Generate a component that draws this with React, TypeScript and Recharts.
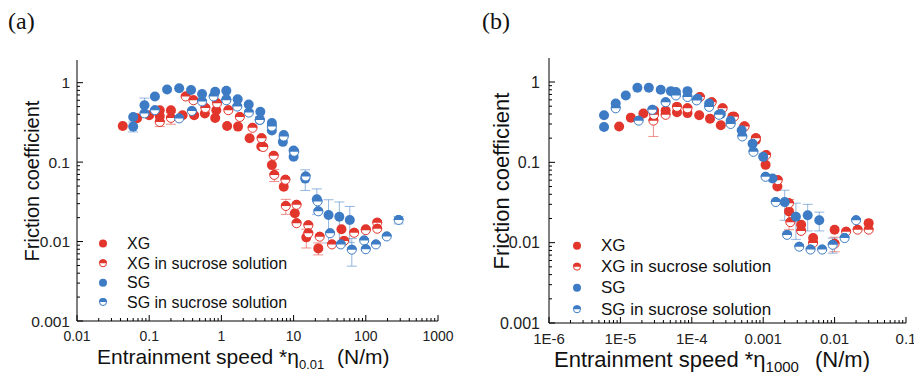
import { ScatterChart, Scatter, XAxis, YAxis, ErrorBar } from 'recharts'

type Pt = [number, number, number?]
type Row = { x: number; y: number; e?: number }

const RED = '#e2352c'
const BLUE = '#3d7cc5'
const SANS = '"Liberation Sans", Arial, sans-serif'

const seriesNames = ['XG', 'XG in sucrose solution', 'SG', 'SG in sucrose solution']

// panel (a): entrainment speed * eta_0.01
const xgA: Pt[] = [
  [0.043, 0.285], [0.068, 0.356], [0.1, 0.39], [0.14, 0.45], [0.14, 0.38], [0.2, 0.45], [0.29, 0.39],
  [0.42, 0.39], [0.59, 0.41], [0.82, 0.36], [0.85, 0.45], [1.2, 0.285], [1.7, 0.28], [2.46, 0.2],
  [3.57, 0.157], [5.0, 0.092], [7.3, 0.049], [10.4, 0.0227], [15, 0.0113, 0.003], [22, 0.0082, 0.0014],
  [46, 0.0143], [100, 0.0143],
]
const xgSucA: Pt[] = [
  [0.14, 0.32, 0.04], [0.2, 0.36, 0.06], [0.32, 0.67], [0.41, 0.6], [0.6, 0.48], [0.87, 0.55],
  [1.25, 0.45], [1.8, 0.37], [2.7, 0.27], [3.6, 0.2], [3.8, 0.155], [5.3, 0.12], [5.4, 0.069, 0.012],
  [7.7, 0.06], [7.8, 0.028, 0.006], [11, 0.029], [11, 0.017], [16, 0.016], [16, 0.0127], [23, 0.0115],
  [34, 0.0092], [50, 0.0102], [69, 0.0129], [100, 0.0139], [144, 0.0173], [144, 0.0145],
]
const sgA: Pt[] = [
  [0.06, 0.37], [0.06, 0.28, 0.04], [0.086, 0.52, 0.12], [0.12, 0.67], [0.177, 0.82], [0.26, 0.85],
  [0.38, 0.81], [0.54, 0.72], [0.82, 0.77], [1.17, 0.79], [1.17, 0.62], [1.68, 0.62], [2.39, 0.53],
  [3.46, 0.43], [3.4, 0.34], [5.0, 0.31], [5.0, 0.25], [7.3, 0.22], [7.1, 0.18], [10, 0.14], [10, 0.117],
  [14.5, 0.062, 0.018], [21, 0.034, 0.012], [30.5, 0.0216, 0.012], [43, 0.0205, 0.011], [60, 0.0187, 0.009],
]
const sgSucA: Pt[] = [
  [0.086, 0.41], [0.12, 0.45], [0.26, 0.355], [0.39, 0.44], [0.54, 0.58], [0.78, 0.67], [1.17, 0.6],
  [1.66, 0.5], [2.4, 0.42], [3.4, 0.34], [5, 0.28], [7.3, 0.21], [10.2, 0.135], [14.7, 0.066],
  [21.5, 0.032], [22, 0.024], [32, 0.0127], [45, 0.0092], [64, 0.0079, 0.003], [95, 0.0103],
  [100, 0.008], [138, 0.0092], [195, 0.0116], [285, 0.0187, 0.002],
]

// panel (b): entrainment speed * eta_1000
const xgB: Pt[] = [
  [9.6e-6, 0.28], [1.4e-5, 0.36], [2.1e-5, 0.405], [2.96e-5, 0.44], [4.3e-5, 0.44], [6.2e-5, 0.42],
  [8.7e-5, 0.41], [1.27e-4, 0.385], [1.8e-4, 0.35], [2.55e-4, 0.29], [3.7e-4, 0.37], [5.4e-4, 0.28],
  [7.9e-4, 0.19], [1.08e-3, 0.093], [1.58e-3, 0.05], [2.3e-3, 0.0245, 0.01], [3.4e-3, 0.0167],
  [5e-3, 0.0114], [0.01, 0.0145], [0.03, 0.0175],
]
const xgSucB: Pt[] = [
  [2.9e-5, 0.33, 0.12], [2.96e-5, 0.39], [4.3e-5, 0.39], [6.2e-5, 0.49], [8.7e-5, 0.47], [1.3e-4, 0.65],
  [1.9e-4, 0.56], [2.7e-4, 0.47], [3.9e-4, 0.37], [5.5e-4, 0.28], [7.9e-4, 0.2], [1.1e-3, 0.123],
  [1.6e-3, 0.06], [2.3e-3, 0.031], [2.4e-3, 0.018], [3.4e-3, 0.014], [5e-3, 0.0099], [0.01, 0.0097, 0.002],
  [0.0145, 0.0137], [0.021, 0.0145], [0.03, 0.0145],
]
const sgB: Pt[] = [
  [5.9e-6, 0.386], [5.9e-6, 0.276], [8.6e-6, 0.54], [1.19e-5, 0.68], [1.73e-5, 0.85], [2.5e-5, 0.85],
  [3.67e-5, 0.8], [5.1e-5, 0.77], [6e-5, 0.75], [8.7e-5, 0.77], [1.2e-4, 0.62], [1.75e-4, 0.54],
  [2.55e-4, 0.4], [3.5e-4, 0.33], [5e-4, 0.25], [7.1e-4, 0.17], [1e-3, 0.117], [1.35e-3, 0.063],
  [2e-3, 0.032, 0.013], [2.87e-3, 0.021, 0.01], [4.2e-3, 0.022, 0.008], [6.1e-3, 0.019, 0.005],
]
const sgSucB: Pt[] = [
  [8.6e-6, 0.47], [1.8e-5, 0.33], [2.8e-5, 0.45], [4.3e-5, 0.56], [6e-5, 0.68], [8.7e-5, 0.65],
  [1.17e-4, 0.59], [1.75e-4, 0.49], [2.4e-4, 0.39], [3.5e-4, 0.3], [5.1e-4, 0.21], [7.3e-4, 0.135],
  [1.08e-3, 0.066], [1.5e-3, 0.032], [2.16e-3, 0.0125], [3.2e-3, 0.0089], [4.6e-3, 0.0082],
  [6.7e-3, 0.0082], [9.4e-3, 0.0094, 0.002], [0.0138, 0.0114], [0.02, 0.019],
]

const xMajorsA = [0.01, 0.1, 1, 10, 100, 1000]
const xLabelsA = ['0.01', '0.1', '1', '10', '100', '1000']
const xMajorsB = [1e-6, 1e-5, 1e-4, 0.001, 0.01, 0.1]
const xLabelsB = ['1E-6', '1E-5', '1E-4', '0.001', '0.01', '0.1']
const yMajors = [0.001, 0.01, 0.1, 1]
const yLabels = ['0.001', '0.01', '0.1', '1']

const toRows = (pts: Pt[]): Row[] => pts.map(([x, y, e]) => ({ x, y, e }))

// majors plus 2..9 minors, kept inside the axis domain
function logTicks(majors: number[], lo: number, hi: number) {
  const out: number[] = []
  majors.forEach((m) => {
    for (let k = 1; k <= 9; k++) {
      const v = m * k
      if (v >= lo * 0.9999 && v <= hi * 1.0001) out.push(v)
    }
  })
  return out
}

const isMajor = (majors: number[], v: number) => majors.findIndex((m) => Math.abs(Math.log10(m / v)) < 1e-6)

function xTick(majors: number[], labels: string[], fs: number, dy: number) {
  return (p: any) => {
    const i = isMajor(majors, p.payload.value)
    const len = i >= 0 ? 6 : 3
    return (
      <g>
        <line x1={p.x} x2={p.x} y1={p.y} y2={p.y - len} stroke="#000" />
        {i >= 0 && (
          <text x={p.x} y={p.y + dy} textAnchor="middle" dominantBaseline="central" fontSize={fs} fontFamily={SANS} fill="#222">
            {labels[i]}
          </text>
        )}
      </g>
    )
  }
}

function yTick(fs: number, gap: number) {
  return (p: any) => {
    const i = isMajor(yMajors, p.payload.value)
    const len = i >= 0 ? 6 : 3
    return (
      <g>
        <line x1={p.x} x2={p.x + len} y1={p.y} y2={p.y} stroke="#000" />
        {i >= 0 && (
          <text x={p.x - gap} y={p.y} textAnchor="end" dominantBaseline="central" fontSize={fs} fontFamily={SANS} fill="#222">
            {yLabels[i]}
          </text>
        )}
      </g>
    )
  }
}

const filled = (color: string, r = 5) => (p: any) => <circle cx={p.cx} cy={p.cy} r={r} fill={color} />

const half = (color: string, r = 5) => (p: any) => (
  <g>
    <circle cx={p.cx} cy={p.cy} r={r - 0.5} fill="#fff" stroke={color} strokeWidth={1} />
    <path d={`M${p.cx - r},${p.cy} A${r},${r} 0 0 1 ${p.cx + r},${p.cy} Z`} fill={color} />
  </g>
)

interface PanelProps {
  left: number
  margin: { top: number; right: number; left: number; bottom: number }
  xAxisHeight: number
  yAxisWidth: number
  xDomain: [number, number]
  yDomain: [number, number]
  xMajors: number[]
  xLabels: string[]
  xFont: number
  xDy: number
  yFont: number
  yGap: number
  data: Pt[][]
}

function Panel(props: PanelProps) {
  const { left, margin, xAxisHeight, yAxisWidth, xDomain, yDomain, xMajors, xLabels, xFont, xDy, yFont, yGap, data } = props
  const colors = [RED, RED, BLUE, BLUE]
  return (
    <div style={{ position: 'absolute', left, top: 0 }}>
      <ScatterChart width={460} height={373} margin={margin}>
        <XAxis
          xAxisId="b"
          type="number"
          dataKey="x"
          scale="log"
          domain={xDomain}
          allowDataOverflow
          ticks={logTicks(xMajors, xDomain[0], xDomain[1])}
          interval={0}
          tick={xTick(xMajors, xLabels, xFont, xDy)}
          tickLine={false}
          tickSize={0}
          tickMargin={0}
          height={xAxisHeight}
          axisLine={{ stroke: '#000' }}
        />
        <XAxis xAxisId="t" orientation="top" type="number" scale="log" domain={xDomain} allowDataOverflow tick={false} tickLine={false} height={0} axisLine={{ stroke: '#9a9a9a' }} />
        <YAxis
          yAxisId="l"
          type="number"
          dataKey="y"
          scale="log"
          domain={yDomain}
          allowDataOverflow
          ticks={logTicks(yMajors, yDomain[0], yDomain[1])}
          interval={0}
          tick={yTick(yFont, yGap)}
          tickLine={false}
          tickSize={0}
          tickMargin={0}
          width={yAxisWidth}
          axisLine={{ stroke: '#000' }}
        />
        <YAxis yAxisId="r" orientation="right" type="number" scale="log" domain={yDomain} allowDataOverflow tick={false} tickLine={false} width={0} axisLine={{ stroke: '#9a9a9a' }} />
        {data.map((pts, i) => (
          <Scatter
            key={seriesNames[i]}
            name={seriesNames[i]}
            data={toRows(pts)}
            xAxisId="b"
            yAxisId="l"
            isAnimationActive={false}
            shape={i % 2 === 0 ? filled(colors[i]) : half(colors[i])}
          >
            <ErrorBar dataKey="e" direction="y" width={5} stroke={colors[i]} strokeOpacity={0.55} strokeWidth={1} />
          </Scatter>
        ))}
      </ScatterChart>
    </div>
  )
}

function Legend({ x, tx, ys, fs }: { x: number; tx: number; ys: number[]; fs: number }) {
  const colors = [RED, RED, BLUE, BLUE]
  return (
    <g>
      {seriesNames.map((n, i) => (
        <g key={n}>
          {i % 2 === 0 ? filled(colors[i], 4)({ cx: x, cy: ys[i] }) : half(colors[i], 4)({ cx: x, cy: ys[i] })}
          <text x={tx} y={ys[i]} dominantBaseline="central" fontSize={fs} fontFamily={SANS} fill="#111">
            {n}
          </text>
        </g>
      ))}
    </g>
  )
}

export default function App() {
  return (
    <div style={{ position: 'absolute', left: 0, top: 0, width: 914, height: 373, background: '#fff', overflow: 'hidden' }}>
      <Panel
        left={0}
        margin={{ top: 60, right: 22, left: 0, bottom: 0 }}
        xAxisHeight={52}
        yAxisWidth={77}
        xDomain={[0.01, 1000]}
        yDomain={[0.001, 1.93]}
        xMajors={xMajorsA}
        xLabels={xLabelsA}
        xFont={14}
        xDy={15}
        yFont={15.5}
        yGap={7}
        data={[xgA, xgSucA, sgA, sgSucA]}
      />
      <Panel
        left={454}
        margin={{ top: 58, right: 8, left: 0, bottom: 0 }}
        xAxisHeight={50}
        yAxisWidth={95}
        xDomain={[1e-6, 0.1]}
        yDomain={[0.001, 1.99]}
        xMajors={xMajorsB}
        xLabels={xLabelsB}
        xFont={15}
        xDy={15.5}
        yFont={16}
        yGap={9}
        data={[xgB, xgSucB, sgB, sgSucB]}
      />
      <svg width={914} height={373} style={{ position: 'absolute', left: 0, top: 0, pointerEvents: 'none' }}>
        <text x={8} y={29} fontSize={24} fontFamily='"Liberation Serif", "Times New Roman", serif' fill="#111">(a)</text>
        <text x={482} y={29} fontSize={24} fontFamily='"Liberation Serif", "Times New Roman", serif' fill="#111">(b)</text>

        <text transform="translate(39,181) rotate(-90)" textAnchor="middle" fontSize={20} fontFamily={SANS} fill="#111">Friction coefficient</text>
        <text transform="translate(509,181) rotate(-90)" textAnchor="middle" fontSize={22} fontFamily={SANS} fill="#111">Friction coefficient</text>

        <text x={97} y={364} fontSize={21} fontFamily={SANS} fill="#111">
          Entrainment speed *η<tspan fontSize={13} dy={5}>0.01</tspan>
        </text>
        <text x={337} y={364} fontSize={21} fontFamily={SANS} fill="#111">(N/m)</text>

        <text x={554} y={367} fontSize={22} fontFamily={SANS} fill="#111">
          Entrainment speed *η<tspan fontSize={15} dy={5}>1000</tspan>
        </text>
        <text x={815} y={367} fontSize={22} fontFamily={SANS} fill="#111">(N/m)</text>

        <Legend x={103} tx={127} ys={[243.5, 263.3, 282.8, 302]} fs={16} />
        <Legend x={577} tx={601} ys={[245.7, 266.7, 287.8, 309.3]} fs={17} />
      </svg>
    </div>
  )
}
